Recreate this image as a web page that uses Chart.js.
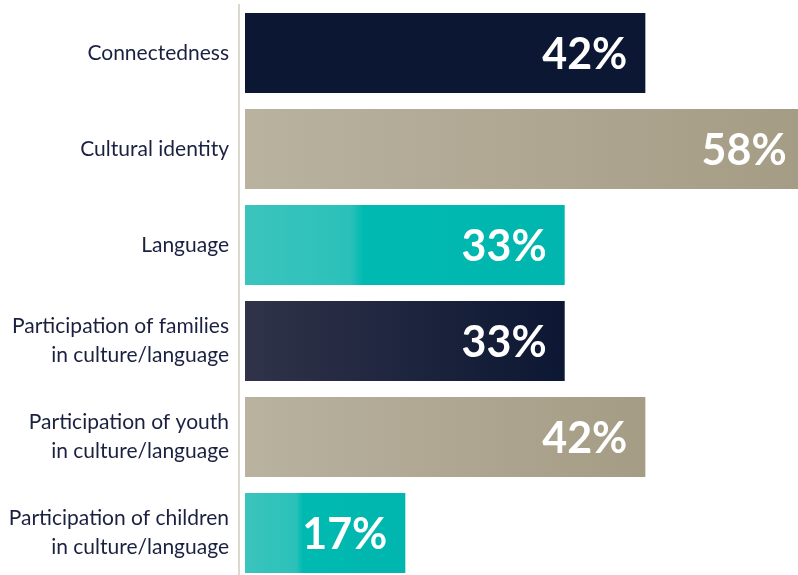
<!DOCTYPE html>
<html>
<head>
<meta charset="utf-8">
<script src="https://cdn.jsdelivr.net/npm/chart.js@4/dist/chart.umd.min.js"></script>
<style>
html,body{margin:0;padding:0;width:798px;height:575px;overflow:hidden;background:#ffffff;}
#wrap{width:798px;height:590px;position:relative;}
</style>
</head>
<body>
<div id="wrap"><canvas id="c" width="798" height="590"></canvas></div>
<script>
const categories = [
  "Connectedness",
  "Cultural identity",
  "Language",
  ["Participation of families", "in culture/language"],
  ["Participation of youth", "in culture/language"],
  ["Participation of children", "in culture/language"]
];
const values = [41.7, 58.3, 33.3, 33.3, 41.7, 16.7];
const valueLabels = ["42%", "58%", "33%", "33%", "42%", "17%"];

const gradStops = [
  [["#0c1733", 0], ["#0c1733", 1]],
  [["#b9b29f", 0], ["#a59c85", 1]],
  [["#3bc4bd", 0], ["#2ac1ba", 0.33], ["#00bab2", 0.37], ["#00b6ae", 1]],
  [["#303349", 0], ["#0c1733", 1]],
  [["#b9b29f", 0], ["#a59c85", 1]],
  [["#3bc4bd", 0], ["#2ac1ba", 0.32], ["#00bab2", 0.36], ["#00b6ae", 1]]
];
const solid = ["#0c1733", "#aea690", "#00bab2", "#1e2440", "#aea690", "#00bab2"];

function barColor(ctx) {
  const chart = ctx.chart;
  const i = ctx.dataIndex;
  if (!chart.chartArea || !chart.scales.x) return solid[i];
  const xs = chart.scales.x;
  const x0 = xs.getPixelForValue(0);
  const x1 = xs.getPixelForValue(values[i]);
  const g = chart.ctx.createLinearGradient(x0, 0, x1, 0);
  gradStops[i].forEach(s => g.addColorStop(s[1], s[0]));
  return g;
}

const valueLabelPlugin = {
  id: 'valueLabels',
  afterDatasetsDraw(chart) {
    const ctx = chart.ctx;
    const meta = chart.getDatasetMeta(0);
    ctx.save();
    ctx.fillStyle = '#ffffff';
    ctx.font = 'bold 43px Lato';
    ctx.textAlign = 'right';
    ctx.textBaseline = 'middle';
    meta.data.forEach((el, i) => {
      ctx.fillText(valueLabels[i], el.x - 18, el.y + 2);
    });
    ctx.restore();
  }
};

new Chart(document.getElementById('c'), {
  type: 'bar',
  data: {
    labels: categories,
    datasets: [{
      data: values,
      backgroundColor: barColor,
      borderWidth: 0,
      barPercentage: 80 / 96,
      categoryPercentage: 1
    }]
  },
  options: {
    indexAxis: 'y',
    responsive: false,
    animation: false,
    devicePixelRatio: 1,
    layout: { padding: { top: 5, bottom: 9, left: 0, right: 0 } },
    plugins: { legend: { display: false }, tooltip: { enabled: false } },
    scales: {
      x: {
        display: false,
        min: -0.625,
        max: 57.6
      },
      y: {
        grid: { display: false, drawTicks: false },
        border: { display: true, color: '#dcd8cd', width: 2 },
        ticks: {
          color: '#1a2140',
          padding: 10,
          font: { family: 'Lato', size: 21, lineHeight: 1.38 }
        },
        afterFit(scale) {
          scale.width = 239;
          scale.paddingTop = 0;
          scale.paddingBottom = 0;
        }
      }
    }
  },
  plugins: [valueLabelPlugin]
});
</script>
</body>
</html>
